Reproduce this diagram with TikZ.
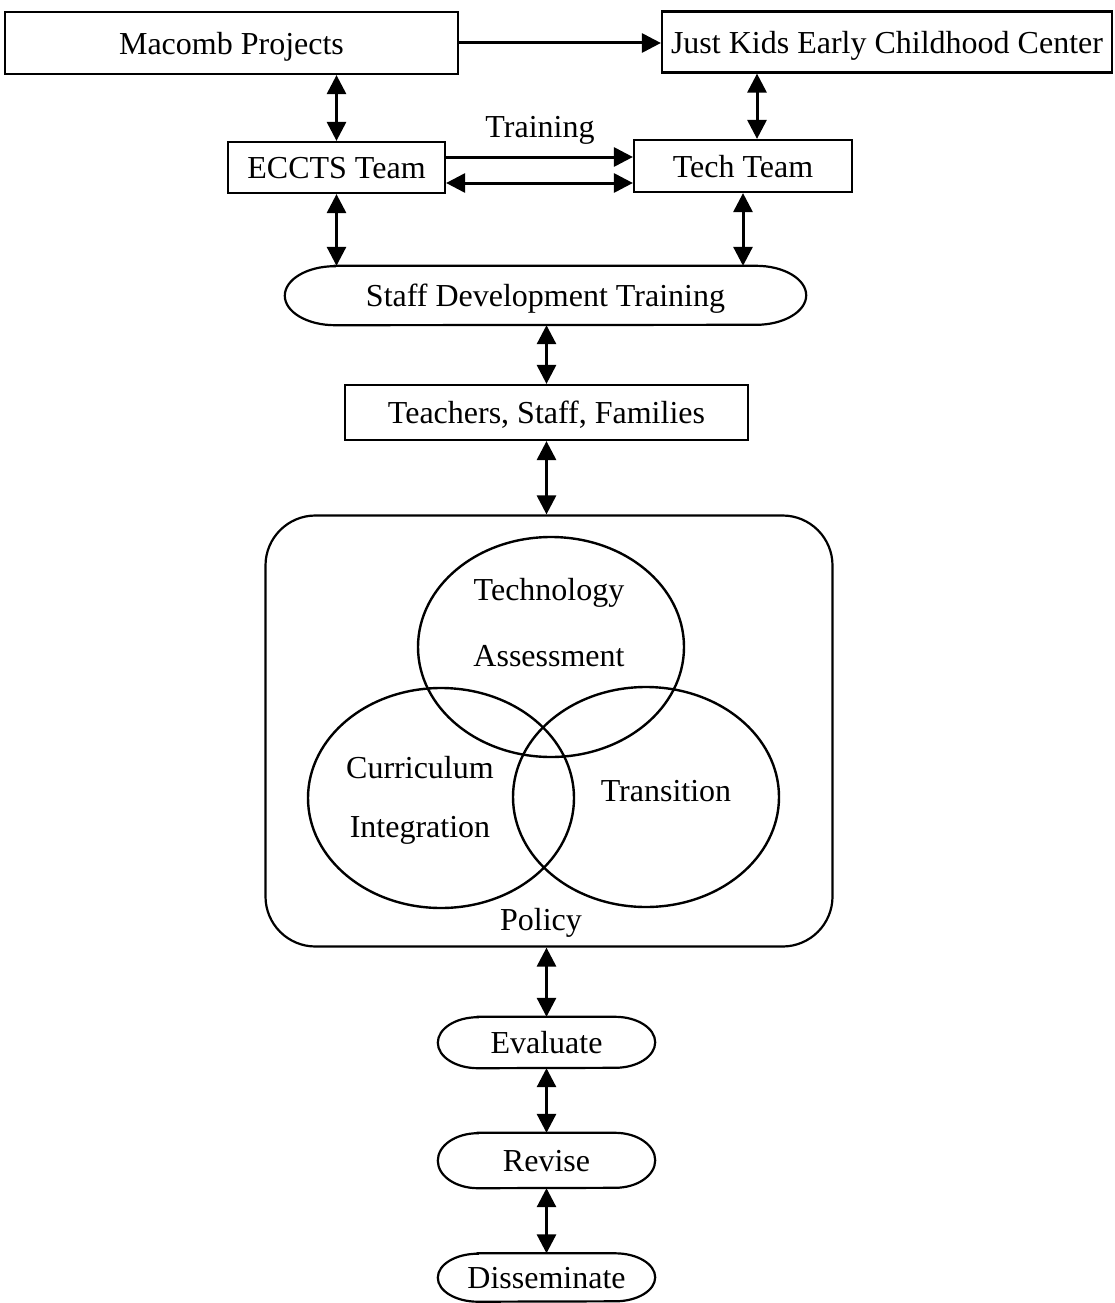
\documentclass[tikz,border=0pt]{standalone}
\usepackage{fontspec}
\setmainfont{Liberation Serif}
\usetikzlibrary{arrows.meta,shapes.geometric}
\tikzset{
  box/.style={draw, line width=2.2pt, inner sep=0pt, text depth=0pt, minimum height=#1},
  box/.default=55pt,
  pill/.style={inner sep=0pt, text depth=0pt},
  outline/.style={line width=2.2pt},
  lbl/.style={inner sep=0pt},
  dbl/.style={line width=3pt, {Triangle[length=19pt,width=19pt]}-{Triangle[length=19pt,width=19pt]}},
  sgl/.style={line width=3pt, -{Triangle[length=19pt,width=19pt]}},
  venn/.style={draw, line width=2.4pt, ellipse, minimum width=266pt, minimum height=220pt, inner sep=0pt}
}
% outline with elliptic ends around a named node: name, end x-radius, end y-radius
\newcommand\ovaloutline[3]{%
  \draw[outline] ([xshift=#2pt]#1.north west) -- ([xshift=-#2pt]#1.north east)
    arc[start angle=90, end angle=-90, x radius=#2pt, y radius=#3pt]
    -- ([xshift=#2pt]#1.south west)
    arc[start angle=270, end angle=90, x radius=#2pt, y radius=#3pt] -- cycle;}
\begin{document}
\begin{tikzpicture}[x=1pt,y=-1pt,font=\fontsize{32}{38}\selectfont]
\useasboundingbox (0,0) rectangle (1114,1303);
% top row
\node[box=62pt, minimum width=453pt] (mac) at (231.5,43) {Macomb Projects};
\node[box=61pt, minimum width=450pt] (jk) at (887,42) {Just Kids Early Childhood Center};
% teams
\node[box=51pt, minimum width=217pt] (ecc) at (336.5,167.5) {ECCTS Team};
\node[box=52pt, minimum width=218pt] (tech) at (743,166) {Tech Team};
\node[lbl] (train) at (540,130) {Training};
% staff development
\node[pill, minimum width=521pt, minimum height=59pt] (staff) at (545.5,295.5) {Staff Development Training};
\ovaloutline{staff}{50}{29.5}
\node[box=55pt, minimum width=403pt] (teach) at (546.5,412.5) {Teachers, Staff, Families};
% big rounded box
\node[draw, line width=2.2pt, rounded corners=50pt, minimum width=567pt, minimum height=431pt, inner sep=0pt] (big) at (549,731) {};
\node[venn] (c1) at (551,647) {};
\node[venn] (c2) at (441,798) {};
\node[venn] (c3) at (646,797) {};
\node[lbl] (t1) at (549,593) {Technology};
\node[lbl] (t2) at (549,656) {Assessment};
\node[lbl] (t3) at (420,768) {Curriculum};
\node[lbl] (t4) at (420,830) {Integration};
\node[lbl] (t5) at (666,791) {Transition};
\node[lbl] (t6) at (541,923) {Policy};
% bottom chain
\node[pill, minimum width=217pt, minimum height=51pt] (eval) at (546.5,1042.5) {Evaluate};
\ovaloutline{eval}{40}{25.5}
\node[pill, minimum width=217pt, minimum height=55pt] (rev) at (546.5,1160.5) {Revise};
\ovaloutline{rev}{40}{27.5}
\node[pill, minimum width=217pt, minimum height=48pt] (dis) at (546.5,1277.5) {Disseminate};
\ovaloutline{dis}{40}{24}
% connectors
\draw[sgl] (mac.east) -- (mac.east -| jk.west);
\draw[dbl] (ecc.north) -- (ecc.north |- mac.south);
\draw[dbl] ([xshift=14pt]tech.north) -- ([xshift=14pt]tech.north |- jk.south);
\draw[sgl] ([yshift=10.5pt]ecc.east) -- ([yshift=10.5pt]ecc.east -| tech.west);
\draw[dbl] ([yshift=-15.5pt]ecc.east) -- ([yshift=-15.5pt]ecc.east -| tech.west);
\draw[dbl] (ecc.south) -- (ecc.south |- staff.north);
\draw[dbl] (tech.south) -- (tech.south |- staff.north);
\draw[dbl] (staff.south -| teach.north) -- (teach.north);
\draw[dbl] (teach.south) -- (teach.south |- big.north);
\draw[dbl] (eval.north |- big.south) -- (eval.north);
\draw[dbl] (eval.south) -- (rev.north);
\draw[dbl] (rev.south) -- (dis.north);
\end{tikzpicture}
\end{document}
